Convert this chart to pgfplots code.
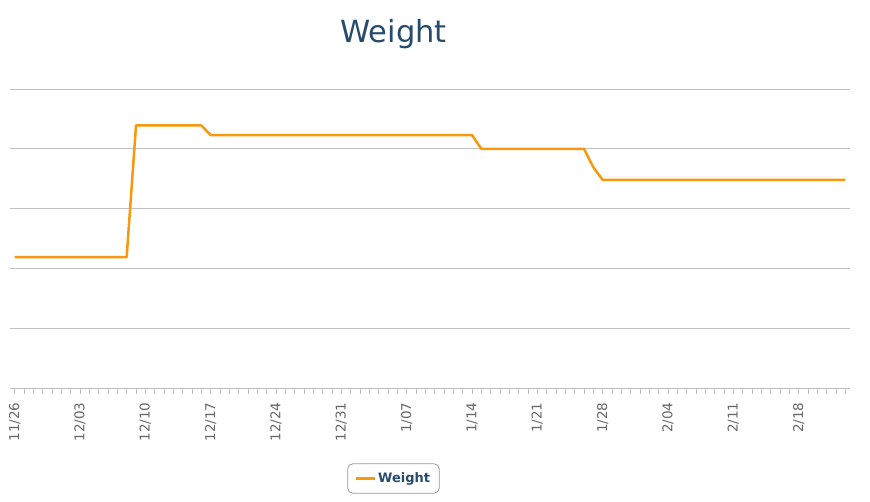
\documentclass[border=0pt]{standalone}
\usepackage{fontspec}
\setmainfont{DejaVu Sans}
\usepackage{pgfplots}
\pgfplotsset{compat=1.18}
\definecolor{titleblue}{HTML}{274B6D}
\definecolor{lineorange}{HTML}{F8980F}
\definecolor{gridgray}{HTML}{C0C0C0}
\definecolor{labelgray}{HTML}{666666}
\begin{document}
\begin{tikzpicture}[x=1pt,y=1pt]
\useasboundingbox (0,0) rectangle (870,501);
\node[text=titleblue, font=\fontsize{30.5}{36}\selectfont, anchor=base] at (393.5,458) {Weight};
\begin{axis}[
  at={(10pt,113pt)}, anchor=south west,
  width=840pt, height=299pt, scale only axis,
  xmin=-0.5, xmax=89.5, ymin=140, ymax=190,
  axis x line*=bottom, axis y line*=left,
  x axis line style={draw=gridgray, line width=1pt},
  y axis line style={draw=none},
  ytick={150,160,170,180,190},
  yticklabels={},
  ytick style={draw=none},
  ymajorgrids, major grid style={draw=gridgray, line width=0.9pt},
  xtick={0,7,...,84},
  xticklabels={11/26,12/03,12/10,12/17,12/24,12/31,1/07,1/14,1/21,1/28,2/04,2/11,2/18},
  minor xtick={0,...,89},
  tick align=outside,
  major tick length=6pt, minor tick length=6pt,
  xtick style={draw=gridgray, line width=0.8pt},
  minor tick style={draw=gridgray, line width=0.8pt},
  xticklabel style={rotate=90, anchor=east, text=labelgray, font=\fontsize{13.5}{15}\selectfont},
  xticklabel shift=5pt,
  clip=false,
  legend style={at={(0.4565,-0.3027)}, anchor=center, draw=gray!80, rounded corners=5pt,
    text=titleblue, font=\bfseries\fontsize{13}{15}\selectfont, inner xsep=7pt, inner ysep=7pt,
    line width=0.8pt},
  legend image code/.code={\draw[line width=2.5pt, lineorange] (0pt,0pt) -- (19pt,0pt);},
]
\addplot[lineorange, line width=2.5pt, line join=round] coordinates {
(0,161.9) (12,161.9) (13,183.9) (20,183.9) (21,182.3) (49,182.3) (50,180) (61,180) (62,176.9) (63,174.8) (89,174.8)
};
\addlegendentry{Weight}
\end{axis}
\end{tikzpicture}
\end{document}
